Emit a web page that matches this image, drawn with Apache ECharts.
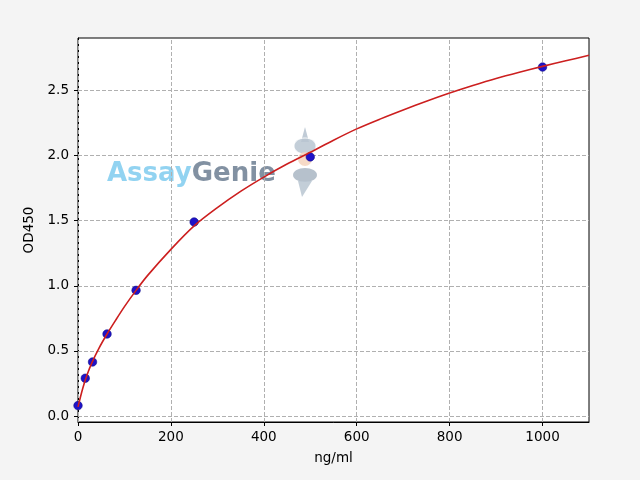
<!DOCTYPE html>
<html>
<head>
<meta charset="utf-8">
<script src="https://cdn.jsdelivr.net/npm/echarts@6/dist/echarts.min.js"></script>
<style>
html,body{margin:0;padding:0;background:#f4f4f4;}
#chart{width:640px;height:480px;}
</style>
</head>
<body>
<div id="chart"></div>
<script>
// Standard points
var stdX = [0, 15.625, 31.25, 62.5, 125, 250, 500, 1000];
var stdY = [0.08, 0.29, 0.415, 0.63, 0.965, 1.49, 1.99, 2.68];
// Fitted curve
var curveX = [0, 10, 20, 30, 45, 62.5, 80, 100, 125, 150, 200, 250, 300, 350, 400, 450, 500, 550, 600, 650, 700, 750, 800, 850, 900, 950, 1000, 1050, 1100];
var curveY = [0.07, 0.21, 0.32, 0.41, 0.52, 0.63, 0.73, 0.84, 0.965, 1.08, 1.28, 1.46, 1.60, 1.725, 1.835, 1.935, 2.025, 2.118, 2.205, 2.28, 2.35, 2.417, 2.48, 2.538, 2.592, 2.64, 2.685, 2.728, 2.77];
// Tick labels
var xTicks = [0, 200, 400, 600, 800, 1000];
var yTicks = [0, 0.5, 1.0, 1.5, 2.0, 2.5];

var chart = echarts.init(document.getElementById('chart'));
var gridLines = [];
yTicks.forEach(function (v) { gridLines.push({ yAxis: v }); });
xTicks.forEach(function (v) { gridLines.push({ xAxis: v }); });

var font = 'DejaVu Sans';
chart.setOption({
  backgroundColor: '#f4f4f4',
  animation: false,
  grid: {
    left: 78, right: 51, top: 38, bottom: 58,
    show: true, backgroundColor: '#ffffff', borderColor: '#000000', borderWidth: 1
  },
  graphic: [
    {
      type: 'text', x: 107, y: 174, z: 1, silent: true,
      style: {
        text: '{a|Assay}{g|Genie}',
        verticalAlign: 'middle',
        opacity: 0.85,
        rich: {
          a: { fontFamily: font, fontWeight: 'bold', fontSize: 26, fill: '#7fcbee' },
          g: { fontFamily: font, fontWeight: 'bold', fontSize: 26, fill: '#6c7e92' }
        }
      }
    },
    { type: 'polygon', z: 1, silent: true, shape: { points: [[305, 127], [301, 142], [309, 142]] }, style: { fill: '#b5c2cf', opacity: 0.85 } },
    { type: 'ellipse', z: 1, silent: true, shape: { cx: 305, cy: 146, rx: 11, ry: 8 }, style: { fill: '#b9c5d1', stroke: '#ffffff', lineWidth: 1, opacity: 0.85 } },
    { type: 'circle', z: 1, silent: true, shape: { cx: 305, cy: 159, r: 7 }, style: { fill: '#f4d4bd', opacity: 0.85 } },
    { type: 'ellipse', z: 1, silent: true, shape: { cx: 305, cy: 175, rx: 12, ry: 7 }, style: { fill: '#a9b6c3', opacity: 0.85 } },
    { type: 'polygon', z: 1, silent: true, shape: { points: [[298, 181], [312, 181], [302, 197]] }, style: { fill: '#b9c5d1', opacity: 0.85 } }
  ],
  xAxis: {
    type: 'value', min: 0, max: 1100,
    name: 'ng/ml', nameLocation: 'middle', nameGap: 29,
    nameTextStyle: { fontFamily: font, fontSize: 13.5, color: '#000' },
    axisLine: { show: true, onZero: false, lineStyle: { color: '#000', width: 1 } },
    axisTick: { show: true, inside: false, length: 4, customValues: xTicks, lineStyle: { color: '#000' } },
    axisLabel: { customValues: xTicks, margin: 8, fontFamily: font, fontSize: 13.5, color: '#000',
      formatter: function (v) { return String(v); } },
    splitLine: { show: false }
  },
  yAxis: {
    type: 'value', min: -0.046, max: 2.903,
    name: 'OD450', nameLocation: 'middle', nameGap: 38, nameRotate: 90,
    nameTextStyle: { fontFamily: font, fontSize: 13.5, color: '#000' },
    axisLine: { show: true, onZero: false, lineStyle: { color: '#000', width: 1 } },
    axisTick: { show: true, inside: false, length: 4, customValues: yTicks, lineStyle: { color: '#000' } },
    axisLabel: { customValues: yTicks, margin: 9, fontFamily: font, fontSize: 13.5, color: '#000',
      formatter: function (v) { return Number(v).toFixed(1); } },
    splitLine: { show: false }
  },
  series: [
    {
      type: 'scatter', z: 3,
      data: stdX.map(function (x, i) { return [x, stdY[i]]; }),
      symbol: 'circle', symbolSize: 8.5,
      itemStyle: { color: '#1e12c8', borderColor: '#14108a', borderWidth: 0.6, opacity: 1 },
      markLine: {
        silent: true, symbol: ['none', 'none'], label: { show: false }, z: 2,
        lineStyle: { color: '#b0b0b0', width: 1, type: [4, 2] },
        emphasis: { disabled: true },
        data: gridLines
      }
    },
    {
      type: 'line', z: 4,
      data: curveX.map(function (x, i) { return [x, curveY[i]]; }),
      smooth: 0.3, showSymbol: false,
      lineStyle: { color: '#cc1f1f', width: 1.6 }
    }
  ]
});
</script>
</body>
</html>
